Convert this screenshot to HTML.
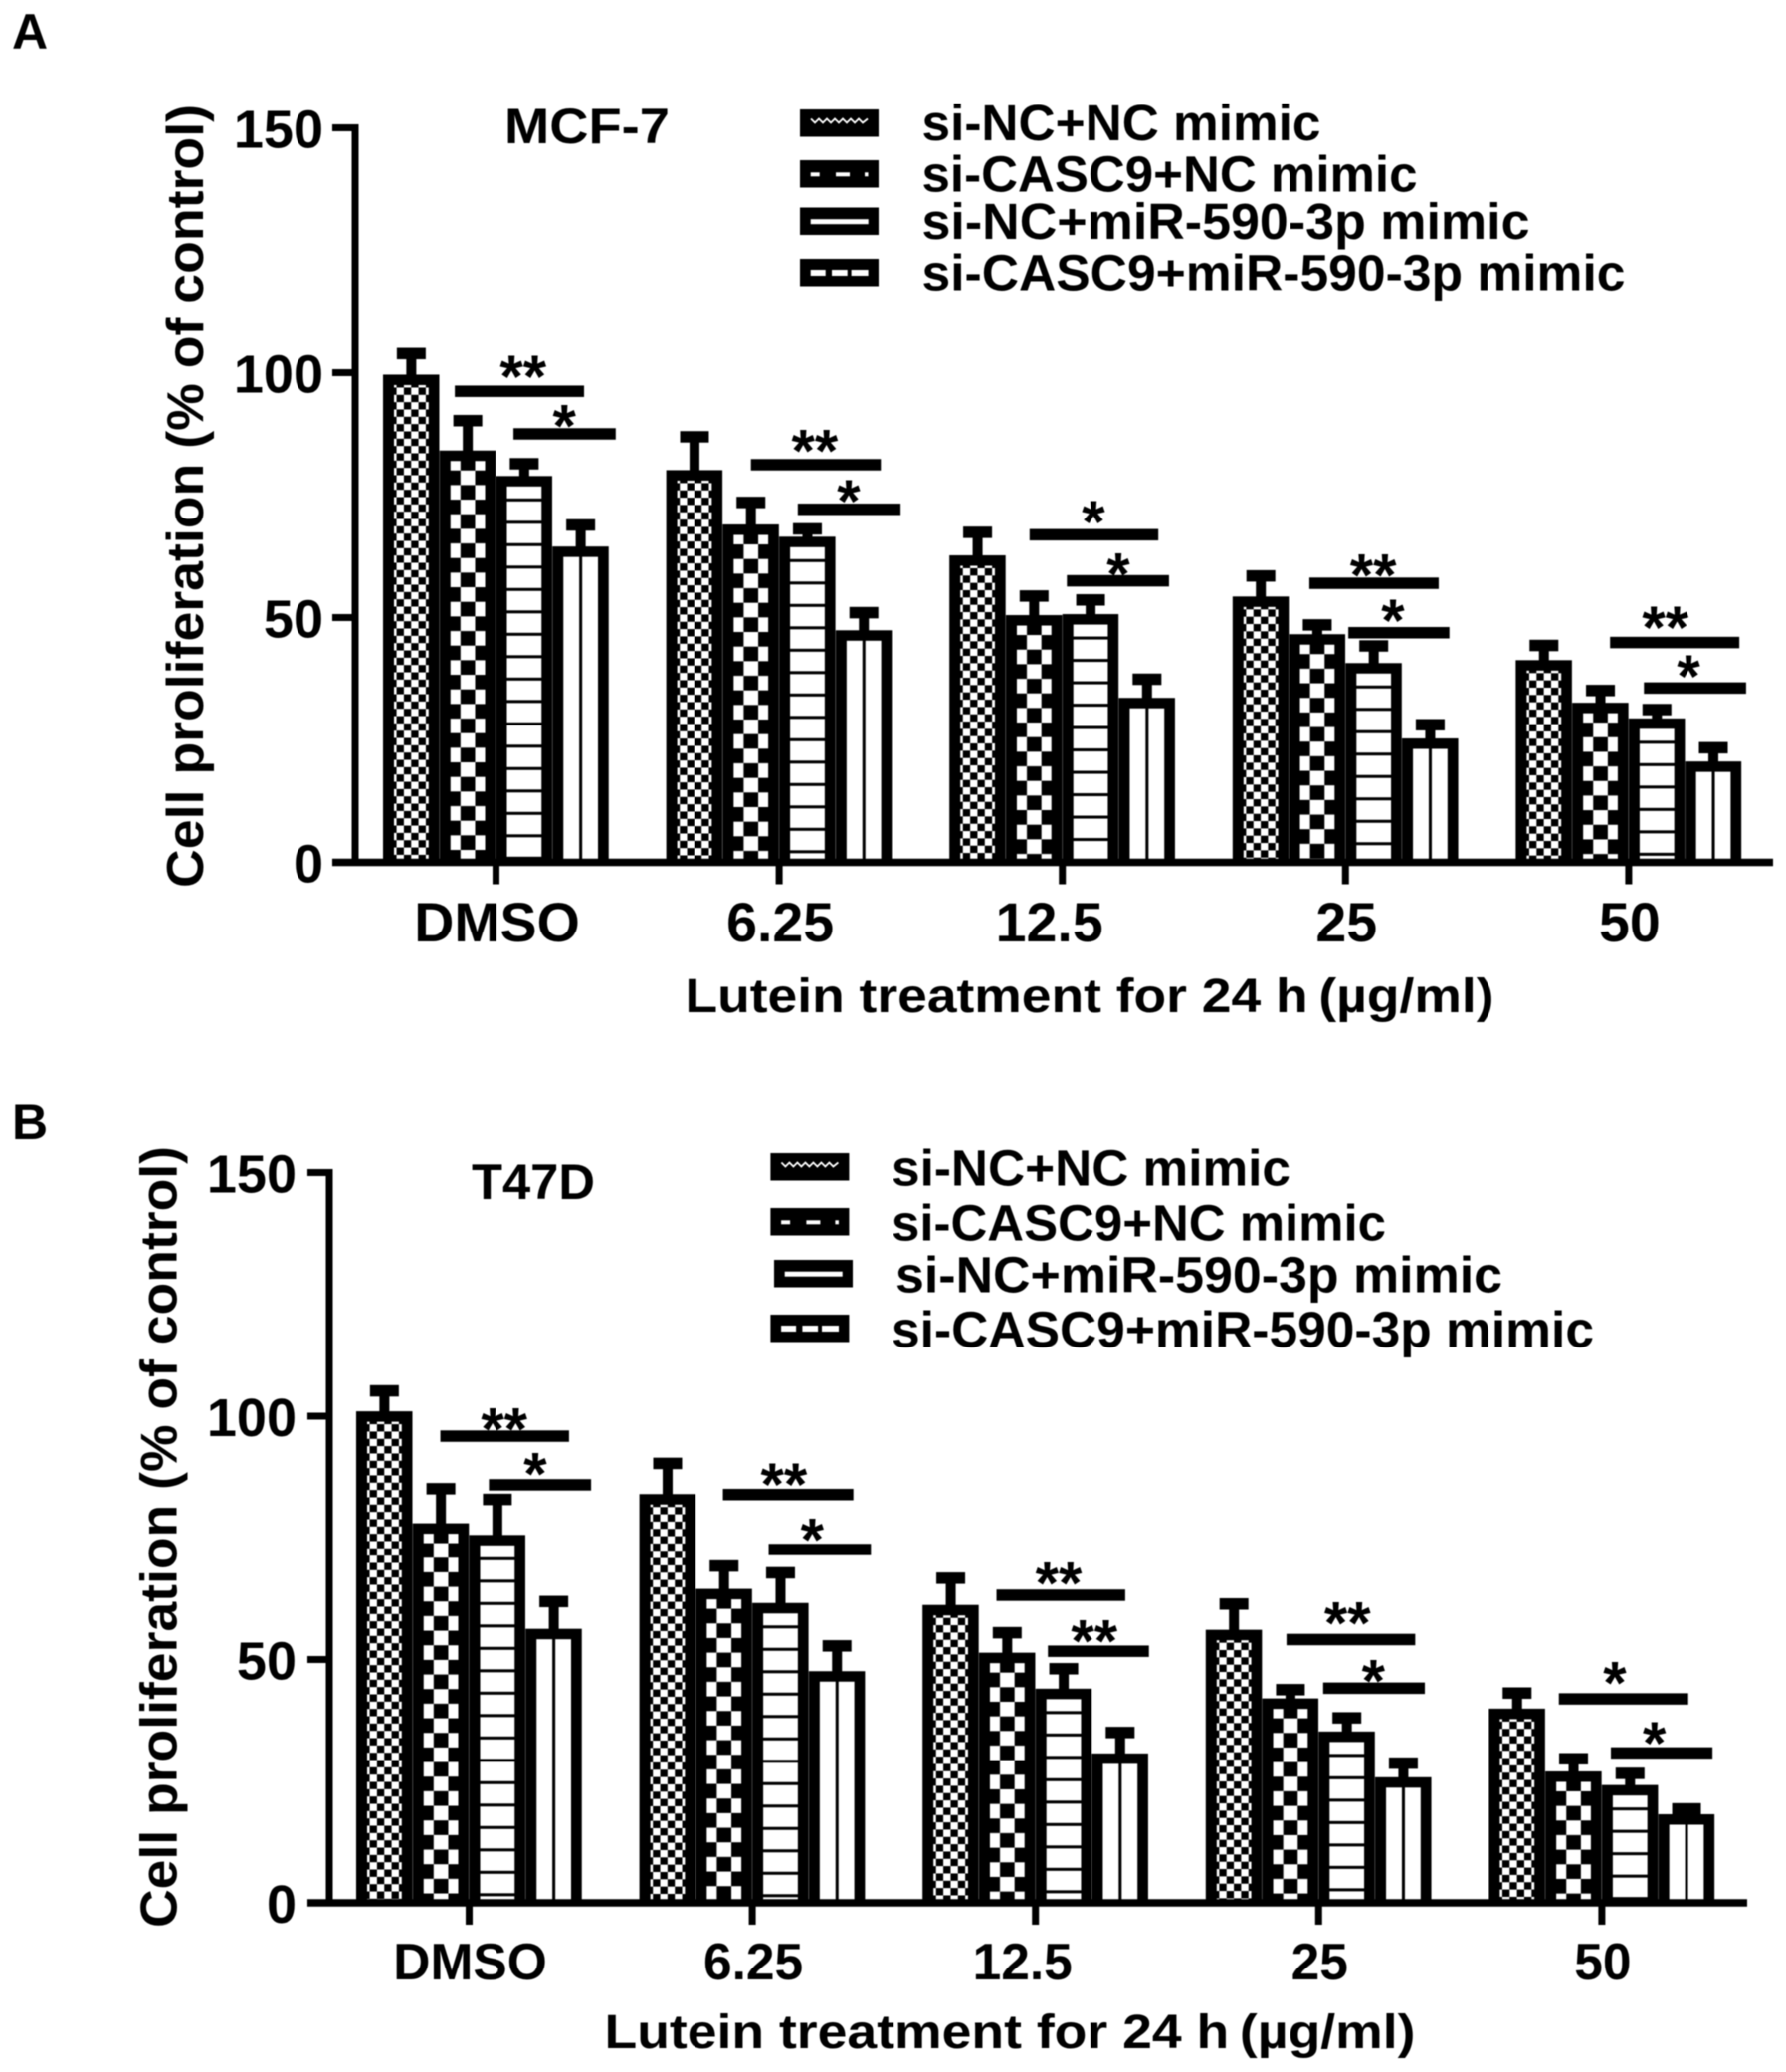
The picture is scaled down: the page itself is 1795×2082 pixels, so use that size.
<!DOCTYPE html>
<html lang="en">
<head>
<meta charset="utf-8">
<title>Cell proliferation after lutein treatment</title>
<style>
html,body{margin:0;padding:0;background:#fff;}
svg{display:block;filter:blur(0.5px);}
text{font-family:"Liberation Sans",Arial,sans-serif;font-weight:bold;fill:#000;}
</style>
</head>
<body>
<svg id="figure" xmlns="http://www.w3.org/2000/svg" width="1795" height="2082" viewBox="0 0 1795 2082">
  <defs>
    <pattern id="pat-fine" patternUnits="userSpaceOnUse" x="20.92" y="13" width="14.67" height="14.67">
      <rect width="14.67" height="14.67" fill="#fff"/>
      <rect width="7.33" height="7.33" fill="#000"/>
      <rect x="7.33" y="7.33" width="7.34" height="7.34" fill="#000"/>
    </pattern>
    <pattern id="pat-coarse" patternUnits="userSpaceOnUse" x="6.4" y="20" width="29.33" height="29.33">
      <rect width="29.33" height="29.33" fill="#fff"/>
      <rect width="14.67" height="14.67" fill="#000"/>
      <rect x="14.67" y="14.67" width="14.67" height="14.67" fill="#000"/>
    </pattern>
    <pattern id="pat-hlines" patternUnits="userSpaceOnUse" x="0" y="22.5" width="10" height="22.5">
      <rect width="10" height="22.5" fill="#fff"/>
      <rect width="10" height="3" fill="#000"/>
    </pattern>
    <pattern id="pat-vline" patternUnits="userSpaceOnUse" x="0" y="0" width="56.75" height="10">
      <rect width="56.75" height="10" fill="#fff"/>
      <rect x="26.9" width="3" height="10" fill="#000"/>
    </pattern>
    <g id="swatch-wave">
      <rect width="79" height="27.5" fill="#000"/>
      <polyline points="11,9.5 15,13.5 19,9.5 23,13.5 27,9.5 31,13.5 35,9.5 39,13.5 43,9.5 47,13.5 51,9.5 55,13.5 59,9.5 63,13.5 68,9.5" fill="none" stroke="#fff" stroke-width="1.8"/>
    </g>
    <g id="swatch-dots">
      <rect width="79" height="27.5" fill="#000"/>
      <rect x="10.7" y="12.3" width="9" height="4" fill="#fff"/>
      <rect x="36" y="12.3" width="14" height="4" fill="#fff"/>
      <rect x="65" y="12.3" width="3.5" height="4" fill="#fff"/>
    </g>
    <g id="swatch-bar">
      <rect width="79" height="27.5" fill="#000"/>
      <rect x="10.7" y="11.7" width="58" height="5" fill="#fff"/>
    </g>
    <g id="swatch-dash">
      <rect width="79" height="27.5" fill="#000"/>
      <rect x="10.7" y="11" width="15" height="6" fill="#fff"/>
      <rect x="32" y="11" width="15.7" height="6" fill="#fff"/>
      <rect x="51.6" y="11" width="17" height="6" fill="#fff"/>
    </g>
  </defs>

  <rect width="1795" height="2082" fill="#fff"/>

  <g id="panel-a">
    <text x="12" y="49" font-size="50">A</text>
    <text x="507" y="144" font-size="50" textLength="166" lengthAdjust="spacingAndGlyphs">MCF-7</text>
    <text transform="translate(204,892) rotate(-90)" font-size="52" textLength="787" lengthAdjust="spacingAndGlyphs">Cell proliferation (% of control)</text>
    <text x="688.5" y="1017" font-size="48" textLength="813" lengthAdjust="spacingAndGlyphs">Lutein treatment for 24 h&#8201;(µg/ml)</text>
    <g>
      <g>
        <use href="#swatch-wave" x="804" y="110"/>
        <text x="926.5" y="141" font-size="51" textLength="401" lengthAdjust="spacingAndGlyphs">si-NC+NC mimic</text>
      </g>
      <g>
        <use href="#swatch-dots" x="804" y="161"/>
        <text x="926.5" y="192.5" font-size="51" textLength="498" lengthAdjust="spacingAndGlyphs">si-CASC9+NC mimic</text>
      </g>
      <g>
        <use href="#swatch-bar" x="804" y="208.5"/>
        <text x="926.5" y="240" font-size="51" textLength="611" lengthAdjust="spacingAndGlyphs">si-NC+miR-590-3p mimic</text>
      </g>
      <g>
        <use href="#swatch-dash" x="804" y="260"/>
        <text x="926.5" y="291.5" font-size="51" textLength="707" lengthAdjust="spacingAndGlyphs">si-CASC9+miR-590-3p mimic</text>
      </g>
    </g>
  </g>

  <g id="panel-b">
    <text x="12" y="1144" font-size="50">B</text>
    <text x="474" y="1205" font-size="50" textLength="124" lengthAdjust="spacingAndGlyphs">T47D</text>
    <text transform="translate(177.5,1937) rotate(-90)" font-size="52" textLength="785" lengthAdjust="spacingAndGlyphs">Cell proliferation (% of control)</text>
    <text x="607.5" y="2058" font-size="48" textLength="815" lengthAdjust="spacingAndGlyphs">Lutein treatment for 24 h&#8201;(µg/ml)</text>
    <g>
      <g>
        <use href="#swatch-wave" x="774.4" y="1159"/>
        <text x="896" y="1191.5" font-size="51" textLength="401" lengthAdjust="spacingAndGlyphs">si-NC+NC mimic</text>
      </g>
      <g>
        <use href="#swatch-dots" x="774.4" y="1214"/>
        <text x="896" y="1246.5" font-size="51" textLength="497" lengthAdjust="spacingAndGlyphs">si-CASC9+NC mimic</text>
      </g>
      <g>
        <use href="#swatch-bar" x="778" y="1266"/>
        <text x="900" y="1298.5" font-size="51" textLength="610" lengthAdjust="spacingAndGlyphs">si-NC+miR-590-3p mimic</text>
      </g>
      <g>
        <use href="#swatch-dash" x="774.4" y="1321"/>
        <text x="896" y="1353.5" font-size="51" textLength="706" lengthAdjust="spacingAndGlyphs">si-CASC9+miR-590-3p mimic</text>
      </g>
    </g>
  </g>
</svg>

<script>
// ---- shared categories and ticks ----
const categories = ['DMSO', '6.25', '12.5', '25', '50'];
const yTicks = [0, 50, 100, 150];
const seriesNames = ['si-NC+NC mimic', 'si-CASC9+NC mimic', 'si-NC+miR-590-3p mimic', 'si-CASC9+miR-590-3p mimic'];

// ---- panel A (MCF-7): mean per category, one array per series ----
const meanA1 = [99.6, 80.1, 62.7, 54.3, 41.3];
const meanA2 = [84.1, 69.0, 50.5, 46.6, 32.6];
const meanA3 = [78.9, 66.5, 50.7, 40.7, 29.4];
const meanA4 = [64.5, 47.4, 33.6, 25.3, 20.6];
// upper error-bar value per category
const upperA1 = [103.9, 86.9, 67.4, 58.5, 44.3];
const upperA2 = [90.2, 73.5, 54.4, 48.5, 35.1];
const upperA3 = [81.4, 68.1, 53.6, 44.2, 31.2];
const upperA4 = [68.9, 51.0, 37.4, 28.1, 23.4];
// significance annotations, two per category (value units and bar-index units)
const sigLabelA = ['**', '*', '**', '*', '*', '*', '**', '*', '**', '*'];
const sigLevelA = [96.2, 87.5, 81.2, 72.1, 66.9, 57.5, 57.0, 46.9, 44.9, 35.6];
const sigFromA = [1.27, 2.31, 1.50, 2.33, 1.42, 2.08, 1.36, 2.05, 1.67, 2.27];
const sigToA = [3.56, 4.12, 3.80, 4.15, 3.70, 3.89, 3.65, 3.84, 3.96, 4.08];
const starAtA = [2.48, 3.21, 2.63, 3.23, 2.55, 2.99, 2.49, 2.84, 2.65, 3.06];
const starLevelA = [101.1, 91.1, 86.0, 75.7, 71.4, 60.8, 60.6, 51.3, 49.9, 39.9];

// ---- panel B (T47D) ----
const meanB1 = [101.0, 84.0, 61.2, 56.1, 39.9];
const meanB2 = [78.0, 64.5, 51.4, 42.0, 27.0];
const meanB3 = [75.6, 61.6, 44.0, 35.2, 24.2];
const meanB4 = [56.3, 47.6, 30.7, 25.8, 18.2];
const upperB1 = [105.2, 90.3, 66.7, 61.4, 43.1];
const upperB2 = [85.1, 69.2, 55.5, 43.8, 29.6];
const upperB3 = [82.9, 67.8, 48.1, 38.0, 26.6];
const upperB4 = [61.9, 52.8, 35.0, 28.7, 19.3];
const sigLabelB = ['**', '*', '**', '*', '**', '**', '**', '*', '*', '*'];
const sigLevelB = [95.9, 85.9, 83.9, 72.6, 63.2, 51.7, 54.1, 44.1, 41.9, 30.8];
const sigFromB = [1.49, 2.35, 1.48, 2.29, 1.31, 2.22, 1.43, 2.08, 1.24, 2.16];
const sigToB = [3.77, 4.16, 3.79, 4.10, 3.59, 4.01, 3.71, 3.88, 3.53, 3.96];
const starAtB = [2.62, 3.17, 2.56, 3.06, 2.41, 3.04, 2.51, 2.97, 2.23, 2.93];
const starLevelB = [99.3, 90.1, 87.9, 76.6, 67.6, 55.7, 59.4, 47.5, 47.1, 34.8];

const NS = 'http://www.w3.org/2000/svg';
const BAR_W = 56.75;
const GROUP_STEP = 284.6;
const fillIds = ['pat-fine', 'pat-coarse', 'pat-hlines', 'pat-vline'];

function make(parent, tag, attrs, text) {
  const el = document.createElementNS(NS, tag);
  for (const k in attrs) el.setAttribute(k, attrs[k]);
  if (text !== undefined) el.textContent = text;
  parent.appendChild(el);
  return el;
}

function drawPanel(cfg) {
  const root = document.getElementById(cfg.id);
  const yScale = v => cfg.base - v * cfg.k;
  const groupLeft = g => cfg.firstBar + g * GROUP_STEP;
  const barX = (g, s) => groupLeft(g) + s * BAR_W;
  const groupCenter = g => groupLeft(g) + 2 * BAR_W;

  // bars + error bars
  cfg.means.forEach((series, s) => {
    series.forEach((v, g) => {
      const x = barX(g, s);
      const top = yScale(v);
      const up = yScale(cfg.uppers[s][g]);
      const cx = x + BAR_W / 2;

      const stem = make(root, 'rect', {x: cx - 5, y: up, width: 10, height: top - up + 2, fill: '#000'});
      
      

      const cap = make(root, 'rect', {x: cx - 14.5, y: up - 5.75, width: 29, height: 11.5, fill: '#000'});
      
      

      const bar = make(root, 'rect', {x: x, y: top, width: BAR_W - 0.25, height: cfg.base - top, fill: '#000'});
      
      

      const inner = make(root, 'rect', {
        transform: 'translate(' + x + ',' + top + ')',
        x: 11, y: 10.5, width: 34.75,
        height: Math.max(0, cfg.base - top - 10.5),
        fill: 'url(#' + fillIds[s] + ')'
      });
      
      
    });
  });

  // significance lines + stars
  cfg.sigLabel.forEach((label, i) => {
    const gl = groupLeft(Math.floor(i / 2));
    const x0 = gl + cfg.sigFrom[i] * BAR_W;
    const x1 = gl + cfg.sigTo[i] * BAR_W;
    const line = make(root, 'rect', {x: x0, y: yScale(cfg.sigLevel[i]) - 5.75, width: x1 - x0, height: 11.5, fill: '#000'});
    
    

    const star = make(root, 'text', {
      x: gl + cfg.starAt[i] * BAR_W,
      y: yScale(cfg.starLevel[i]) + 30,
      'font-size': 60,
      'text-anchor': 'middle'
    }, label);
    
    
  });

  // axes
  const yAxis = make(root, 'rect', {x: cfg.axisX - 3.5, y: yScale(150) - 3.5, width: 7, height: cfg.base - yScale(150) + 7, fill: '#000'});
  
  

  const xAxis = make(root, 'rect', {x: cfg.axisLeft, y: cfg.base - 3.75, width: cfg.axisRight - cfg.axisLeft, height: 7.5, fill: '#000'});
  
  

  yTicks.forEach(t => {
    const y = yScale(t);
    const tick = make(root, 'rect', {x: cfg.axisLeft, y: y - 3.5, width: cfg.axisX - cfg.axisLeft, height: 7, fill: '#000'});
    
    

    const lab = make(root, 'text', {x: cfg.yLabelRight, y: y + 20, 'font-size': 54, 'text-anchor': 'end'}, String(t));
    
    
  });

  categories.forEach((c, g) => {
    const cx = groupCenter(g);
    const tick = make(root, 'rect', {x: cx - 3.5, y: cfg.base, width: 7, height: 22, fill: '#000'});
    
    

    const dx = c === '12.5' ? -13 : 1;
    const lab = make(root, 'text', {x: cx + dx, y: cfg.xLabelY, 'font-size': cfg.xLabelSize, 'text-anchor': 'middle'}, c);
    
    
  });
}

drawPanel({
  id: 'panel-a', base: 866.5, k: 4.92, firstBar: 385, axisX: 357, axisLeft: 334, axisRight: 1782,
  yLabelRight: 325, xLabelY: 946, xLabelSize: 55.5,
  means: [meanA1, meanA2, meanA3, meanA4],
  uppers: [upperA1, upperA2, upperA3, upperA4],
  sigLabel: sigLabelA, sigLevel: sigLevelA, sigFrom: sigFromA, sigTo: sigToA, starAt: starAtA, starLevel: starLevelA
});
drawPanel({
  id: 'panel-b', base: 1912, k: 4.89, firstBar: 358, axisX: 331, axisLeft: 309, axisRight: 1756,
  yLabelRight: 298, xLabelY: 1989, xLabelSize: 51.5,
  means: [meanB1, meanB2, meanB3, meanB4],
  uppers: [upperB1, upperB2, upperB3, upperB4],
  sigLabel: sigLabelB, sigLevel: sigLevelB, sigFrom: sigFromB, sigTo: sigToB, starAt: starAtB, starLevel: starLevelB
});
</script>
</body>
</html>
